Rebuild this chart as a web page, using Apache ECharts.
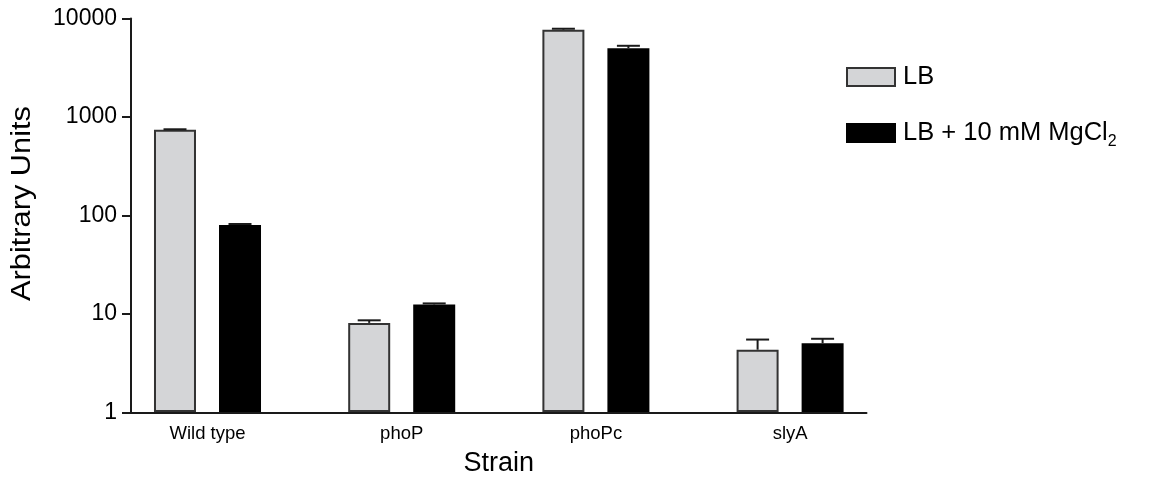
<!DOCTYPE html>
<html>
<head>
<meta charset="utf-8">
<script src="https://cdn.jsdelivr.net/npm/echarts@6/dist/echarts.min.js"></script>
<style>
  html, body { margin: 0; padding: 0; background: #fff; }
  #chart { width: 1152px; height: 482px; }
</style>
</head>
<body>
<div id="chart"></div>
<script>
// Reporter expression per strain, grown in LB with and without 10 mM MgCl2
const strains = ['Wild type', 'phoP', 'phoPc', 'slyA'];
const lbMean = [738, 8.05, 7700, 4.3];
const lbErr = [10, 0.5, 170, 1.15];
const mgMean = [79.5, 12.4, 4980, 5.0];
const mgErr = [2, 0.3, 300, 0.55];
const yTicks = [1, 10, 100, 1000, 10000];
const seriesNames = ['LB', 'LB + 10 mM MgCl2'];

const FONT = '"Liberation Sans", Arial, Helvetica, sans-serif';
const INK = '#1a1a1a';
const BAR_W = 42;
const BAR_GAP_PX = 23;
const HALF_PITCH = (BAR_W + BAR_GAP_PX) / 2;
const CAP_HALF = 11.5;

const chart = echarts.init(document.getElementById('chart'), null, { renderer: 'canvas' });

function errorBars(name, means, errs, side) {
  return {
    type: 'custom',
    name: name + ' error',
    xAxisIndex: 0,
    yAxisIndex: 0,
    z: 5,
    silent: true,
    data: means.map((m, i) => [i, m, m + errs[i]]),
    renderItem(params, api) {
      const base = api.coord([api.value(0), api.value(1)]);
      const top = api.coord([api.value(0), api.value(2)]);
      const x = base[0] + side * HALF_PITCH;
      const st = { stroke: INK, lineWidth: 2 };
      return {
        type: 'group',
        children: [
          { type: 'line', shape: { x1: x, y1: base[1], x2: x, y2: top[1] }, style: st },
          { type: 'line', shape: { x1: x - CAP_HALF, y1: top[1], x2: x + CAP_HALF, y2: top[1] }, style: st }
        ]
      };
    }
  };
}

const option = {
  animation: false,
  backgroundColor: '#fff',
  grid: [
    // bar layout grid: one band per strain
    { left: 110.4, right: 264.8, top: 18.5, bottom: 69.5 },
    // visible frame: axis lines
    { left: 131, right: 285.5, top: 18.5, bottom: 69.5 }
  ],
  xAxis: [
    {
      type: 'category',
      gridIndex: 0,
      data: strains,
      axisLine: { show: false },
      axisTick: { show: false },
      axisLabel: { fontFamily: FONT, fontSize: 18.5, color: '#000', margin: 12 },
      name: 'Strain',
      nameLocation: 'middle',
      nameGap: 38,
      nameTextStyle: { fontFamily: FONT, fontSize: 27, color: '#000' }
    },
    {
      type: 'value',
      gridIndex: 1,
      min: 0,
      max: 1,
      axisLine: { show: true, lineStyle: { color: INK, width: 2 } },
      axisTick: { show: false },
      axisLabel: { show: false },
      splitLine: { show: false }
    }
  ],
  yAxis: [
    {
      type: 'log',
      gridIndex: 0,
      logBase: 10,
      min: yTicks[0],
      max: yTicks[yTicks.length - 1],
      show: false
    },
    {
      type: 'log',
      gridIndex: 1,
      logBase: 10,
      min: yTicks[0],
      max: yTicks[yTicks.length - 1],
      axisLine: { show: true, lineStyle: { color: INK, width: 2 } },
      axisTick: { show: true, inside: false, length: 9, lineStyle: { color: INK, width: 2 } },
      minorTick: { show: false },
      splitLine: { show: false },
      axisLabel: {
        fontFamily: FONT, fontSize: 23, color: '#000', margin: 14,
        formatter: v => String(Math.round(v))
      }
    }
  ],
  legend: {
    orient: 'vertical',
    left: 841,
    top: 59,
    itemWidth: 48,
    itemHeight: 18,
    itemGap: 30,
    icon: 'rect',
    data: seriesNames,
    formatter: n => n === seriesNames[1] ? '{t|LB + 10 mM MgCl}{sub|2}' : '{t|LB}',
    textStyle: {
      color: '#000',
      fontFamily: FONT,
      fontSize: 25,
      rich: {
        t: { fontFamily: FONT, fontSize: 25.5, color: '#000', lineHeight: 34, padding: [0, 0, 0, 3] },
        sub: { fontFamily: FONT, fontSize: 16, color: '#000', lineHeight: 16, verticalAlign: 'bottom' }
      }
    }
  },
  graphic: [
    {
      type: 'text',
      x: 22.5,
      y: 203.5,
      rotation: Math.PI / 2,
      scaleX: 1.14,
      style: {
        text: 'Arbitrary Units',
        font: '27px "Liberation Sans", Arial, sans-serif',
        fill: '#000',
        align: 'center',
        verticalAlign: 'middle'
      }
    }
  ],
  series: [
    {
      name: seriesNames[0],
      type: 'bar',
      xAxisIndex: 0,
      yAxisIndex: 0,
      barWidth: BAR_W,
      barGap: (BAR_GAP_PX / BAR_W * 100).toFixed(1) + '%',
      data: lbMean,
      itemStyle: { color: '#d4d5d7', borderColor: '#333', borderWidth: 2 }
    },
    {
      name: seriesNames[1],
      type: 'bar',
      xAxisIndex: 0,
      yAxisIndex: 0,
      barWidth: BAR_W,
      data: mgMean,
      itemStyle: { color: '#000', borderColor: '#000', borderWidth: 2 }
    },
    errorBars(seriesNames[0], lbMean, lbErr, -1),
    errorBars(seriesNames[1], mgMean, mgErr, 1)
  ]
};

chart.setOption(option);
</script>
</body>
</html>
